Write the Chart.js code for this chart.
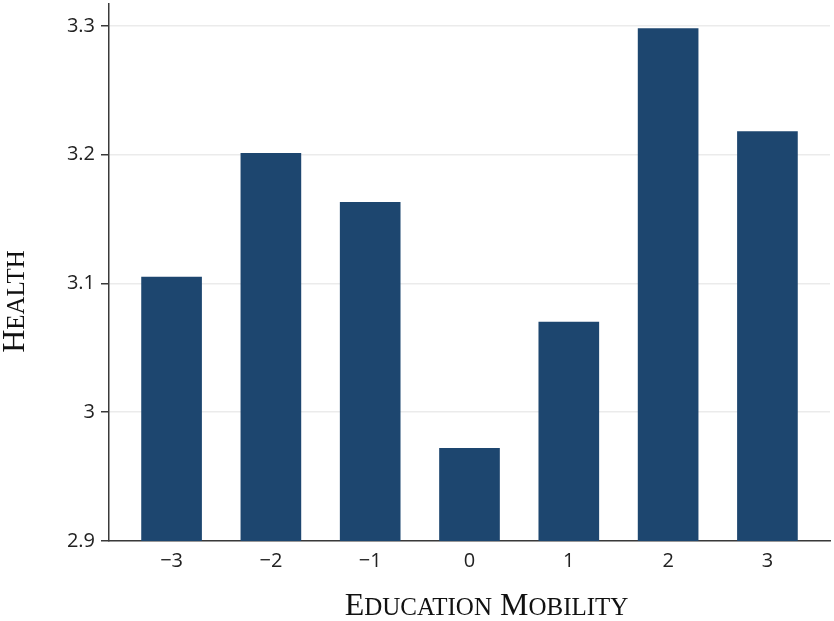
<!DOCTYPE html>
<html>
<head>
    <title>Health by Education Mobility</title>
    <script src="https://cdn.jsdelivr.net/npm/chart.js"></script>
    <style>
        html, body { margin: 0; padding: 0; background: #fff; }
        #wrap { width: 834px; height: 621px; }
    </style>
    <script>
        // values
        const mobility = [-3, -2, -1, 0, 1, 2, 3];
        const health = [3.105, 3.201, 3.163, 2.972, 3.070, 3.298, 3.218];
        const yTicks = [2.9, 3.0, 3.1, 3.2, 3.3];
        const xTitle = 'Education Mobility';
        const yTitle = 'Health';

        window.onload = function() {
            drawChart();
        }

        // canvas has no reliable small-caps, so set caps by hand:
        // first letter of each word large, the rest upper-cased and smaller
        function smallCapsRuns(text) {
            const runs = [];
            text.split(' ').forEach((word, w) => {
                if (w > 0) runs.push({t: ' ', big: true});
                runs.push({t: word[0].toUpperCase(), big: true});
                runs.push({t: word.slice(1).toUpperCase(), big: false});
            });
            return runs;
        }

        function drawSmallCaps(ctx, text, cx, baseY, rotate) {
            const bigFont = '32px "Liberation Serif", serif';
            const smallFont = '25px "Liberation Serif", serif';
            const runs = smallCapsRuns(text);
            let total = 0;
            runs.forEach(r => {
                ctx.font = r.big ? bigFont : smallFont;
                r.w = ctx.measureText(r.t).width;
                total += r.w;
            });
            ctx.save();
            ctx.translate(cx, baseY);
            if (rotate) ctx.rotate(-Math.PI / 2);
            ctx.fillStyle = '#111';
            ctx.textBaseline = 'alphabetic';
            ctx.textAlign = 'left';
            let x = -total / 2;
            runs.forEach(r => {
                ctx.font = r.big ? bigFont : smallFont;
                ctx.fillText(r.t, x, 0);
                x += r.w;
            });
            ctx.restore();
        }

        const axisTitles = {
            id: 'axisTitles',
            afterDraw(chart) {
                const ctx = chart.ctx;
                const a = chart.chartArea;
                drawSmallCaps(ctx, xTitle, (a.left + a.right) / 2 + 17, chart.height - 6, false);
                // rotated: the baseline sits on the right of the glyphs
                drawSmallCaps(ctx, yTitle, 24, (a.top + a.bottom) / 2 + 29, true);
            }
        };

        function drawChart() {
            const points = mobility.map((m, i) => ({x: m, y: health[i]}));
            const ctx = document.getElementById('myChart').getContext('2d');
            new Chart(ctx, {
                type: 'bar',
                data: {
                    datasets: [{
                        label: 'Health',
                        data: points,
                        backgroundColor: '#1d466f',
                        borderWidth: 0,
                        barThickness: 60
                    }]
                },
                options: {
                    responsive: false,
                    animation: false,
                    layout: { padding: { top: 4, right: 4, left: 0, bottom: 0 } },
                    plugins: { legend: { display: false }, tooltip: { enabled: false } },
                    scales: {
                        x: {
                            type: 'linear',
                            offset: false,
                            min: -3.63,
                            max: 3.63,
                            afterBuildTicks: s => { s.ticks = mobility.map(v => ({value: v})); },
                            afterFit: s => { s.height = 80; },
                            grid: { display: false, drawTicks: false },
                            border: { display: true, color: '#3a3a3a', width: 1.5 },
                            ticks: {
                                padding: 8,
                                color: '#222',
                                font: { family: '"Open Sans", sans-serif', size: 20 },
                                callback: v => v < 0 ? '\u2212' + Math.abs(v) : String(v)
                            }
                        },
                        y: {
                            min: 2.9,
                            max: 3.317,
                            afterBuildTicks: s => { s.ticks = yTicks.map(v => ({value: v})); },
                            afterFit: s => { s.width = 109; s.paddingTop = 0; },
                            grid: {
                                color: '#ebebeb',
                                lineWidth: 1.5,
                                tickColor: '#3a3a3a',
                                tickLength: 8,
                                tickWidth: 1.5
                            },
                            border: { display: true, color: '#3a3a3a', width: 1.5 },
                            ticks: {
                                padding: 6,
                                color: '#222',
                                font: { family: '"Open Sans", sans-serif', size: 20 },
                                callback: v => String(Math.round(v * 10) / 10)
                            }
                        }
                    }
                },
                plugins: [axisTitles]
            });
        }
    </script>
</head>
<body>
    <div id="wrap">
        <canvas id="myChart" width="834" height="621"></canvas>
    </div>
</body>
</html>
